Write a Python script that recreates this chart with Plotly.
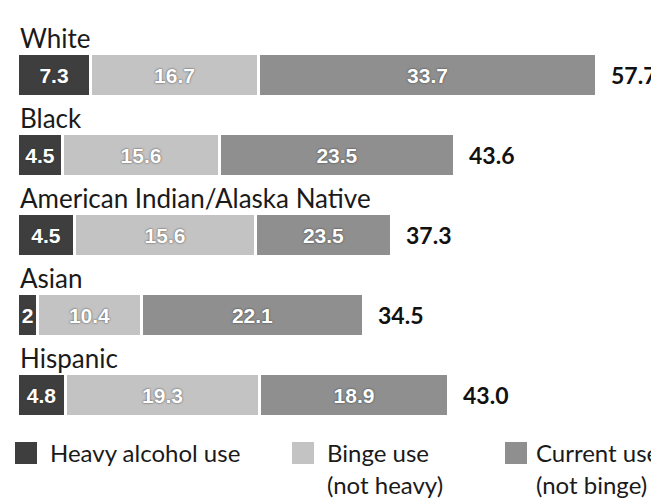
import plotly.graph_objects as go

# ---- data ----
groups = ["White", "Black", "American Indian/Alaska Native", "Asian", "Hispanic"]
heavy = [7.3, 4.5, 5.7, 2.0, 4.8]          # bar lengths as drawn
binge = [16.7, 15.6, 18.0, 10.4, 19.3]
current = [33.7, 23.5, 13.6, 22.1, 18.9]
totals = [57.7, 43.6, 37.3, 34.5, 43.0]

# printed labels inside segments (as printed in the original graphic)
heavy_labels = ["7.3", "4.5", "4.5", "2", "4.8"]
binge_labels = ["16.7", "15.6", "15.6", "10.4", "19.3"]
current_labels = ["33.7", "23.5", "23.5", "22.1", "18.9"]
total_labels = ["57.7", "43.6", "37.3", "34.5", "43.0"]

series_names = ["Heavy alcohol use", "Binge use", "Current use"]
series_sub = ["", "(not heavy)", "(not binge)"]
colors = ["#3e3e3e", "#c3c3c3", "#8f8f8f"]

W, H = 659, 500
FONT = "Lato"
NARROW = "Liberation Sans Narrow, Arial Narrow, Liberation Sans, sans-serif"

fig = go.Figure()
for vals, labs, name, col in zip([heavy, binge, current],
                                 [heavy_labels, binge_labels, current_labels],
                                 series_names, colors):
    fig.add_trace(go.Bar(
        y=groups, x=vals, orientation="h", name=name,
        marker=dict(color=col, line=dict(color="white", width=3)),
        text=labs, textposition="inside", insidetextanchor="middle",
        textfont=dict(family=NARROW, size=21, color="white", weight="bold",
                      shadow="0px 0px 2px #333"),
        width=0.5375, showlegend=False, hoverinfo="skip",
    ))

annotations = []
for g, t, lab in zip(groups, totals, total_labels):
    annotations.append(dict(x=t, y=g, xref="x", yref="y", text=lab,
                            showarrow=False, xanchor="left", yanchor="middle",
                            xshift=12, font=dict(family=FONT, size=23, color="#111", weight="bold")))
    annotations.append(dict(x=0, y=g, xref="x", yref="y", text=g,
                            showarrow=False, xanchor="left", yanchor="middle",
                            yshift=37, xshift=0, font=dict(family=FONT, size=26, color="#1a1a1a")))

# custom legend (squares + text)
leg_sq_x = [7, 284, 497]
leg_tx_x = [40, 317, 526]
shapes = []
for i in range(3):
    x0 = leg_sq_x[i]
    shapes.append(dict(type="rect", xref="paper", yref="paper",
                       x0=x0 / W, x1=(x0 + 22) / W, y0=1 - 456 / H, y1=1 - 434 / H,
                       fillcolor=colors[i], line=dict(width=0)))
    annotations.append(dict(x=leg_tx_x[i] / W, y=1 - 444 / H, xref="paper", yref="paper",
                            text=series_names[i], showarrow=False, xanchor="left", yanchor="middle",
                            font=dict(family=FONT, size=24, color="#1a1a1a")))
    if series_sub[i]:
        annotations.append(dict(x=leg_tx_x[i] / W, y=1 - 476 / H, xref="paper", yref="paper",
                                text=series_sub[i], showarrow=False, xanchor="left", yanchor="middle",
                                font=dict(family=FONT, size=24, color="#1a1a1a")))

fig.update_layout(
    width=W, height=H, margin=dict(l=0, r=0, t=0, b=0),
    barmode="stack", bargap=0,
    paper_bgcolor="white", plot_bgcolor="white",
    xaxis=dict(range=[-10 / 10.03, (W - 10) / 10.03], visible=False, fixedrange=True),
    yaxis=dict(range=[(H - 67) / 80, -67 / 80], visible=False, fixedrange=True,
               type="category", categoryorder="array", categoryarray=groups),
    uniformtext=dict(minsize=21, mode="show"),
    annotations=annotations, shapes=shapes,
    showlegend=False,
)

fig.write_html("out.html")
